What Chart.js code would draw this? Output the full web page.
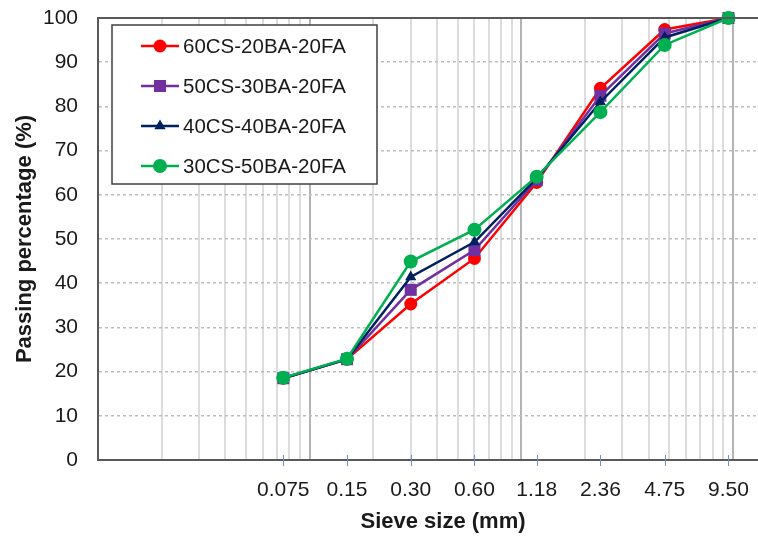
<!DOCTYPE html>
<html>
<head>
<meta charset="utf-8">
<script src="https://cdn.jsdelivr.net/npm/chart.js@4.4.1/dist/chart.umd.min.js"></script>
<style>
  body { margin: 0; background: #fff; }
  #wrap { width: 758px; height: 538px; }
</style>
</head>
<body>
<div id="wrap"><canvas id="gradingChart" width="758" height="538"></canvas></div>
<script>
// Sieve sizes (mm) and the labels printed under the axis
const sieveSizes = [0.075, 0.15, 0.30, 0.60, 1.18, 2.36, 4.75, 9.50];
const sieveLabels = ["0.075", "0.15", "0.30", "0.60", "1.18", "2.36", "4.75", "9.50"];

// Passing percentage for each mix
const mix60 = [18.5, 22.8, 35.3, 45.6, 62.8, 84.1, 97.4, 100];
const mix50 = [18.5, 22.8, 38.5, 47.5, 63.3, 82.4, 96.5, 100];
const mix40 = [18.5, 22.8, 41.4, 49.3, 63.7, 81.0, 95.6, 100];
const mix30 = [18.6, 22.9, 44.9, 52.1, 64.1, 78.7, 93.9, 100];

const seriesNames = ["60CS-20BA-20FA", "50CS-30BA-20FA", "40CS-40BA-20FA", "30CS-50BA-20FA"];
const yTicks = [0, 10, 20, 30, 40, 50, 60, 70, 80, 90, 100];
const xTitle = "Sieve size (mm)";

const FONT = "'Liberation Sans', Arial, sans-serif";
const TEXT = "#1a1a1a";
const FRAME = "#595959";

// log grid lines: 2..9 in each decade plus the decade lines
const gridValues = [];
[0.01, 0.1, 1].forEach(d => {
    for (let k = 2; k <= 10; k++) gridValues.push(+(d * k).toPrecision(3));
});

const same = (a, b) => Math.abs(a - b) < 1e-9;
const isGrid = v => gridValues.some(g => same(g, v));
const sieveIndex = v => sieveSizes.findIndex(s => same(s, v));
function isDecade(v) {
    const l = Math.log10(v);
    return Math.abs(l - Math.round(l)) < 1e-9;
}

// one tick per position, grid lines and sieve sizes together
const xTickValues = gridValues.concat(sieveSizes.filter(s => !isGrid(s)))
    .sort((a, b) => a - b);

function points(values) {
    return sieveSizes.map((s, i) => ({ x: s, y: values[i] }));
}

const styles = [
    { color: "#ff0000", pointStyle: "circle", radius: 6.5, order: 4 },
    { color: "#7030a0", pointStyle: "rect", radius: 8.5, order: 3 },
    { color: "#002060", pointStyle: "triangle", radius: 6.5, order: 2 },
    { color: "#00b050", pointStyle: "circle", radius: 7, order: 1 }
];
const allSeries = [mix60, mix50, mix40, mix30];

const datasets = allSeries.map((vals, i) => ({
    label: seriesNames[i],
    data: points(vals),
    borderColor: styles[i].color,
    backgroundColor: styles[i].color,
    pointBackgroundColor: styles[i].color,
    pointBorderColor: styles[i].color,
    pointStyle: styles[i].pointStyle,
    pointRadius: styles[i].radius,
    pointBorderWidth: 0,
    borderWidth: 2.5,
    tension: 0,
    clip: false,
    order: styles[i].order
}));

// legend box drawn inside the plot, top frame line, sieve tick marks, x title
const framePlugin = {
    id: "framePlugin",
    afterDraw(chart) {
        const ctx = chart.ctx;
        const area = chart.chartArea;
        const xs = chart.scales.x;

        ctx.save();
        // top frame
        ctx.strokeStyle = FRAME;
        ctx.lineWidth = 2;
        ctx.beginPath();
        ctx.moveTo(area.left - 1, area.top);
        ctx.lineTo(area.right, area.top);
        ctx.stroke();

        // small cross ticks at each sieve size
        ctx.strokeStyle = "#6f8fd0";
        ctx.lineWidth = 1;
        sieveSizes.forEach(s => {
            const x = Math.round(xs.getPixelForValue(s)) + 0.5;
            ctx.beginPath();
            ctx.moveTo(x, area.bottom - 5);
            ctx.lineTo(x, area.bottom + 6);
            ctx.stroke();
        });

        // x axis title, sits a little right of the plot centre
        ctx.font = "bold 22px " + FONT;
        ctx.fillStyle = TEXT;
        ctx.textAlign = "center";
        ctx.textBaseline = "middle";
        ctx.fillText(xTitle, (area.left + area.right) / 2 + 15, xs.bottom - 16);

        // legend
        const bx = area.left + 14, by = area.top + 7, bw = 265, bh = 159;
        ctx.fillStyle = "#fff";
        ctx.fillRect(bx, by, bw, bh);
        ctx.strokeStyle = "#404040";
        ctx.lineWidth = 1.5;
        ctx.strokeRect(bx, by, bw, bh);

        ctx.font = "20.5px " + FONT;
        ctx.textBaseline = "middle";
        ctx.textAlign = "left";
        chart.data.datasets.forEach((ds, i) => {
            const y = by + 21 + i * 40;
            ctx.strokeStyle = ds.borderColor;
            ctx.lineWidth = 2.5;
            ctx.beginPath();
            ctx.moveTo(bx + 29, y);
            ctx.lineTo(bx + 67, y);
            ctx.stroke();
            ctx.fillStyle = ds.backgroundColor;
            ctx.strokeStyle = ds.borderColor;
            Chart.helpers.drawPoint(ctx, {
                pointStyle: ds.pointStyle,
                radius: ds.pointRadius,
                rotation: 0,
                borderWidth: 0
            }, bx + 48, y);
            ctx.fillStyle = TEXT;
            ctx.fillText(ds.label, bx + 71, y + 1);
        });
        ctx.restore();
    }
};

new Chart(document.getElementById("gradingChart"), {
    type: "line",
    data: { datasets: datasets },
    plugins: [framePlugin],
    options: {
        responsive: false,
        animation: false,
        layout: { autoPadding: false, padding: { top: 18, right: 0, bottom: 0, left: 0 } },
        plugins: {
            legend: { display: false },
            tooltip: { enabled: false }
        },
        scales: {
            x: {
                type: "logarithmic",
                min: 0.01,
                max: 13.1,
                afterBuildTicks: scale => {
                    scale.ticks = xTickValues.map(v => ({ value: v }));
                },
                afterFit: scale => {
                    scale.height = 78;
                    scale.paddingLeft = 0;
                    scale.paddingRight = 0;
                },
                ticks: {
                    autoSkip: false,
                    maxRotation: 0,
                    padding: 18,
                    color: TEXT,
                    font: { family: FONT, size: 21 },
                    callback: value => {
                        const i = sieveIndex(value);
                        return i >= 0 ? sieveLabels[i] : "";
                    }
                },
                grid: {
                    drawTicks: false,
                    lineWidth: 2,
                    color: c => {
                        const v = c.tick ? c.tick.value : 0;
                        if (!isGrid(v)) return "rgba(0,0,0,0)";
                        return isDecade(v) ? "#b4b4b4" : "#dcdcdc";
                    }
                },
                border: { color: FRAME, width: 2 }
            },
            y: {
                min: 0,
                max: 100,
                afterBuildTicks: scale => {
                    scale.ticks = yTicks.map(v => ({ value: v }));
                },
                afterFit: scale => {
                    scale.width = 98;
                    scale.paddingTop = 0;
                    scale.paddingBottom = 0;
                },
                ticks: {
                    padding: 20,
                    color: TEXT,
                    font: { family: FONT, size: 21 }
                },
                grid: {
                    drawTicks: false,
                    color: "#bdbdbd",
                    lineWidth: 1.5
                },
                border: { color: FRAME, width: 2, dash: [3, 3] },
                title: {
                    display: true,
                    text: "Passing percentage (%)",
                    color: TEXT,
                    font: { family: FONT, size: 22, weight: "bold" },
                    padding: { top: 12, bottom: 5 }
                }
            }
        }
    }
});
</script>
</body>
</html>
